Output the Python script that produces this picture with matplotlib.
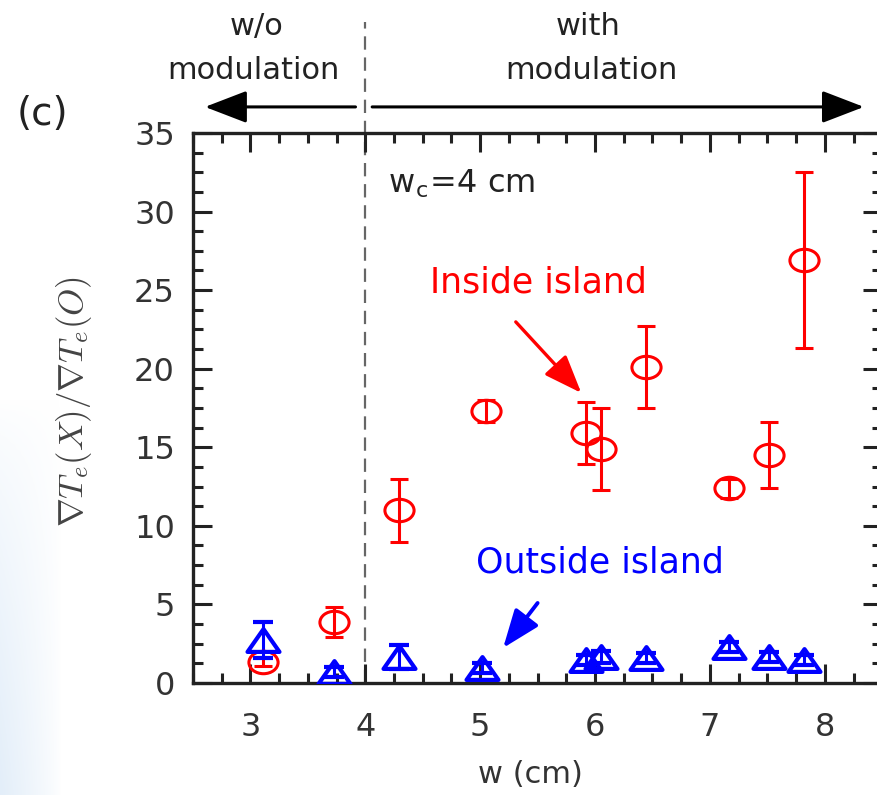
import matplotlib
matplotlib.use('Agg')
import matplotlib.pyplot as plt
import numpy as np
from matplotlib.ticker import MultipleLocator, FixedLocator
from matplotlib.path import Path
from matplotlib.transforms import Affine2D
from matplotlib.colors import LinearSegmentedColormap

# inside island (red circles)
w_in = [3.11, 3.73, 4.29, 5.05, 5.92, 6.05, 6.44, 7.17, 7.51, 7.82]
grad_in = [1.35, 3.9, 11.0, 17.3, 15.9, 14.9, 20.1, 12.4, 14.5, 26.9]
err_in = [0.3, 0.95, 2.0, 0.7, 1.95, 2.6, 2.6, 0.6, 2.1, 5.6]

# outside island (blue triangles)
w_out = [3.11, 3.73, 4.29, 5.02, 5.92, 6.05, 6.44, 7.17, 7.51, 7.82]
grad_out = [2.75, 0.7, 1.65, 0.95, 1.45, 1.65, 1.6, 2.3, 1.65, 1.45]
err_out = [1.13, 0.3, 0.75, 0.3, 0.3, 0.4, 0.3, 0.3, 0.3, 0.3]

x_ticks = [3, 4, 5, 6, 7, 8]
y_ticks = [0, 5, 10, 15, 20, 25, 30, 35]
w_c = 4

plt.rcParams['font.family'] = ['DejaVu Sans']
plt.rcParams['mathtext.fontset'] = 'cm'

# the picture is a bit stretched sideways, so markers are too
ellipse = Path.unit_circle().transformed(Affine2D().scale(1.3, 1.0))
tri = Path([(0, 0.5), (-0.7, -0.5), (0.7, -0.5), (0, 0.5)],
           [Path.MOVETO, Path.LINETO, Path.LINETO, Path.CLOSEPOLY])

fig = plt.figure(figsize=(8.77, 7.95), dpi=100)

# faint blue glow at the lower left edge
bg = fig.add_axes([0, 0, 0.07, 0.5], zorder=-5)
gx = np.linspace(1, 0, 60)
gy = np.linspace(0, 1, 60) ** 0.7
glow = np.outer(gy, gx ** 0.8)
glow_cmap = LinearSegmentedColormap.from_list('glow', ['#ffffff', '#e3eef9'])
bg.imshow(glow, cmap=glow_cmap, vmin=0, vmax=1, aspect='auto', origin='upper')
bg.axis('off')

ax = fig.add_axes([0.220, 0.1409, 0.786, 0.6918])
ax.patch.set_alpha(0)

ax.errorbar(w_in, grad_in, yerr=err_in, ls='none', marker=ellipse, ms=21,
            mfc='none', mec='#ff0000', mew=2.2, ecolor='#ff0000',
            elinewidth=2.2, capsize=6.5, capthick=2.2, zorder=3)
ax.errorbar(w_out, grad_out, yerr=err_out, ls='none', marker=tri, ms=23,
            mfc='none', mec='#0000ff', mew=3.0, ecolor='#0000ff',
            elinewidth=2.2, capsize=7, capthick=2.2, zorder=3)

ax.set_xlim(2.5, 8.5)
ax.set_ylim(0, 35)
ax.xaxis.set_major_locator(FixedLocator(x_ticks))
ax.yaxis.set_major_locator(FixedLocator(y_ticks))
ax.xaxis.set_minor_locator(MultipleLocator(0.25))
ax.yaxis.set_minor_locator(MultipleLocator(1.25))
ax.tick_params(which='both', direction='in', top=True, right=True,
               width=2.2, color='#222222', labelcolor='#333333', labelsize=23)
ax.tick_params(which='major', length=14)
ax.tick_params(which='minor', length=7.5)
ax.tick_params(axis='x', pad=21)
ax.tick_params(axis='y', pad=13)
for s in ax.spines.values():
    s.set_linewidth(2.4)
    s.set_color('#222222')

ax.set_xlabel('w (cm)', fontsize=22, color='#333333')
ax.xaxis.set_label_coords(0.49, -0.167)
ax.xaxis.label.set_va('center')
ax.set_ylabel(r'$\nabla T_e(X)/\nabla T_e(O)$', fontsize=25, color='#444444')
ax.yaxis.set_label_coords(-0.172, 0.512)
ax.yaxis.label.set_va('center')

# w_c boundary
ax.axvline(w_c, ymin=0, ymax=1.202, color='#666666', lw=1.6,
           ls=(0, (6, 3.5)), clip_on=False, zorder=1)

# region arrows
big = dict(arrowstyle='-|>,head_length=1.3,head_width=0.5', color='black',
           lw=2.2, mutation_scale=20, shrinkA=0, shrinkB=0)
ax.annotate('', xy=(2.605, 36.66), xytext=(3.915, 36.66), arrowprops=big,
            annotation_clip=False)
ax.annotate('', xy=(8.34, 36.66), xytext=(4.06, 36.66), arrowprops=big,
            annotation_clip=False)

txt = dict(fontsize=22, color='#222222', ha='center', va='center')
ax.text(3.05, 41.8, 'w/o', **txt)
ax.text(3.03, 39.0, 'modulation', **txt)
ax.text(5.94, 41.8, 'with', **txt)
ax.text(5.97, 39.0, 'modulation', **txt)
fig.text(0.048, 0.857, '(c)', fontsize=28, color='#222222', ha='center', va='center')

ax.text(4.2, 31.8, r'w$_\mathregular{c}$=4 cm', fontsize=23, color='#222222',
        ha='left', va='center')

ax.text(5.51, 25.46, 'Inside island', fontsize=25, color='#ff0000',
        ha='center', va='center')
ax.annotate('', xy=(5.88, 18.46), xytext=(5.31, 22.98),
            arrowprops=dict(arrowstyle='-|>,head_length=1.3,head_width=0.5',
                            color='#ff0000', lw=2.4, mutation_scale=18,
                            shrinkA=0, shrinkB=0))

ax.text(6.04, 7.64, 'Outside island', fontsize=25, color='#0000ff',
        ha='center', va='center')
ax.annotate('', xy=(5.2, 2.23), xytext=(5.5, 5.09),
            arrowprops=dict(arrowstyle='-|>,head_length=1.3,head_width=0.5',
                            color='#0000ff', lw=2.8, mutation_scale=18,
                            shrinkA=0, shrinkB=0))

fig.savefig('out.png', dpi=100)
